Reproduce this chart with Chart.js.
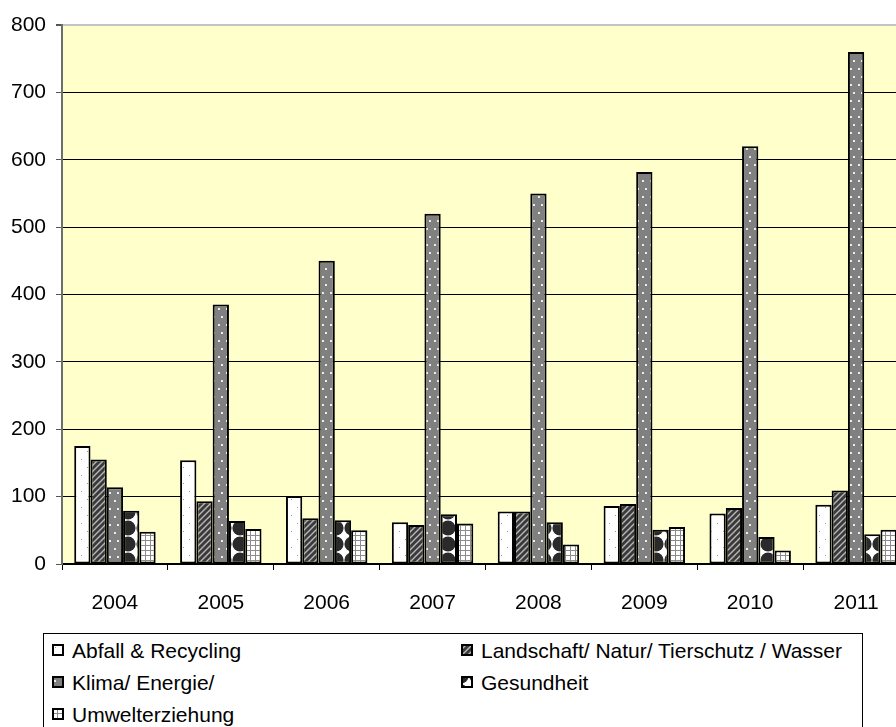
<!DOCTYPE html>
<html>
<head>
<meta charset="utf-8">
<script src="https://cdn.jsdelivr.net/npm/chart.js@4.4.0/dist/chart.umd.min.js"></script>
<style>
  body { margin: 0; background: #fff; overflow: hidden; width: 896px; height: 727px; }
  #wrap { position: relative; width: 920px; height: 630px; }
  #legend {
    position: absolute; left: 43px; top: 633px; width: 820px; height: 120px;
    border: 1px solid #000; box-sizing: border-box;
    font-family: "Liberation Sans", Arial, sans-serif; font-size: 21px; color: #000;
  }
  .item { position: absolute; height: 32px; line-height: 32px; white-space: nowrap; }
  .item canvas { vertical-align: middle; margin-right: 8px; position: relative; top: -2px; }
</style>
</head>
<body>
<div id="wrap"><canvas id="chart" width="920" height="630"></canvas></div>
<div id="legend"></div>
<script>
const years = ['2004', '2005', '2006', '2007', '2008', '2009', '2010', '2011'];
const seriesNames = ['Abfall & Recycling', 'Landschaft/ Natur/ Tierschutz / Wasser', 'Klima/ Energie/', 'Gesundheit', 'Umwelterziehung'];
const abfall = [175, 154, 101, 62, 78, 86, 75, 88];
const landschaft = [155, 93, 68, 58, 78, 89, 83, 109];
const klima = [114, 385, 450, 520, 550, 582, 620, 760];
const gesundheit = [79, 64, 65, 74, 62, 51, 40, 44];
const umwelt = [48, 52, 50, 60, 29, 55, 20, 51];
const yTicks = [0, 100, 200, 300, 400, 500, 600, 700, 800];

// little tiles used as bar fills, like the old excel patterns
function tile(w, h, draw) {
    const c = document.createElement('canvas');
    c.width = w; c.height = h;
    draw(c.getContext('2d'));
    return c;
}

const tiles = [
    tile(12, 16, g => {
        g.fillStyle = '#fff'; g.fillRect(0, 0, 12, 16);
        g.fillStyle = '#999';
        g.fillRect(3, 3, 1, 1); g.fillRect(9, 11, 1, 1);
    }),
    tile(6, 6, g => {
        g.fillStyle = '#3a3a3a'; g.fillRect(0, 0, 6, 6);
        g.strokeStyle = '#b8b8b8'; g.lineWidth = 1.4;
        g.beginPath();
        g.moveTo(-1, 7); g.lineTo(7, -1);
        g.moveTo(-4, 4); g.lineTo(4, -4);
        g.moveTo(2, 10); g.lineTo(10, 2);
        g.stroke();
    }),
    tile(8, 16, g => {
        g.fillStyle = '#808080'; g.fillRect(0, 0, 8, 16);
        g.fillStyle = '#eee';
        g.fillRect(2, 4, 2, 2); g.fillRect(5, 12, 2, 2);
    }),
    tile(16, 16, g => {
        g.fillStyle = '#fff'; g.fillRect(0, 0, 16, 16);
        g.fillStyle = '#2a2a2a';
        [[0, 0], [16, 0], [0, 16], [16, 16]].forEach(p => {
            g.beginPath(); g.arc(p[0], p[1], 7.6, 0, Math.PI * 2); g.fill();
        });
    }),
    tile(5, 5, g => {
        g.fillStyle = '#fff'; g.fillRect(0, 0, 5, 5);
        g.fillStyle = '#8c8c8c';
        g.fillRect(0, 0, 5, 1); g.fillRect(0, 0, 1, 5);
    })
];

const ctx = document.getElementById('chart').getContext('2d');
const patterns = tiles.map(t => ctx.createPattern(t, 'repeat'));
const values = [abfall, landschaft, klima, gesundheit, umwelt];

const plotBg = {
    id: 'plotBg',
    beforeDraw(chart) {
        const a = chart.chartArea;
        chart.ctx.save();
        chart.ctx.fillStyle = '#ffffcc';
        chart.ctx.fillRect(a.left, a.top, a.right - a.left, a.bottom - a.top);
        chart.ctx.restore();
    }
};

new Chart(ctx, {
    type: 'bar',
    data: {
        labels: years,
        datasets: seriesNames.map((name, i) => ({
            label: name,
            data: values[i],
            backgroundColor: patterns[i],
            borderColor: '#000',
            borderWidth: 2,
            borderSkipped: false,
            categoryPercentage: 5 / 6.5,
            barPercentage: 1
        }))
    },
    options: {
        responsive: false,
        animation: false,
        layout: { padding: { top: 25, right: 11, left: 0, bottom: 0 } },
        plugins: { legend: { display: false }, tooltip: { enabled: false } },
        scales: {
            x: {
                afterFit: s => { s.height = 66; },
                grid: { offset: true, drawOnChartArea: false, color: '#000', tickLength: 6 },
                border: { color: '#000', width: 1.5 },
                ticks: { color: '#000', padding: 21, font: { family: 'Liberation Sans', size: 21 } }
            },
            y: {
                min: 0, max: 800,
                afterFit: s => { s.width = 62; },
                afterBuildTicks: s => { s.ticks = yTicks.map(v => ({ value: v })); },
                grid: {
                    color: c => c.tick.value === 800 ? '#c4c4c4' : '#000',
                    lineWidth: c => c.tick.value === 800 ? 2 : 1,
                    tickColor: '#555', tickLength: 6
                },
                border: { color: '#6e6e6e', width: 2 },
                ticks: { color: '#000', padding: 10, font: { family: 'Liberation Sans', size: 21 } }
            }
        }
    },
    plugins: [plotBg]
});

// legend box, two columns like the original
const legend = document.getElementById('legend');
seriesNames.forEach((name, i) => {
    const item = document.createElement('div');
    item.className = 'item';
    item.style.left = (i % 2 === 0 ? 8 : 417) + 'px';
    item.style.top = (1 + Math.floor(i / 2) * 32) + 'px';
    const sw = document.createElement('canvas');
    sw.width = 12; sw.height = 12;
    const g = sw.getContext('2d');
    g.fillStyle = g.createPattern(tiles[i], 'repeat');
    g.fillRect(0, 0, 12, 12);
    g.strokeStyle = '#000'; g.lineWidth = 2;
    g.strokeRect(1, 1, 10, 10);
    item.appendChild(sw);
    item.appendChild(document.createTextNode(name));
    legend.appendChild(item);
});
</script>
</body>
</html>
